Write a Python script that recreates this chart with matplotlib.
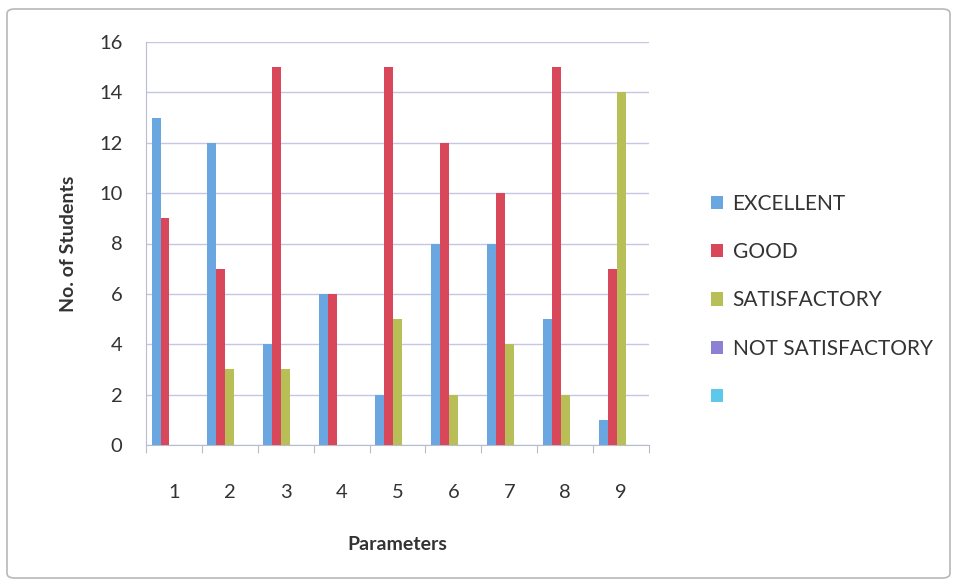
import numpy as np
import matplotlib
matplotlib.use("Agg")
import matplotlib.pyplot as plt
from matplotlib.patches import FancyBboxPatch, Patch

# data
parameters = ["1", "2", "3", "4", "5", "6", "7", "8", "9"]
excellent = [13, 12, 4, 6, 2, 8, 8, 5, 1]
good = [9, 7, 15, 6, 15, 12, 10, 15, 7]
satisfactory = [0, 3, 3, 0, 5, 2, 4, 2, 14]
not_satisfactory = [0, 0, 0, 0, 0, 0, 0, 0, 0]
blank = [0, 0, 0, 0, 0, 0, 0, 0, 0]

series_names = ["EXCELLENT", "GOOD", "SATISFACTORY", "NOT SATISFACTORY", ""]
series_values = [excellent, good, satisfactory, not_satisfactory, blank]
colors = ["#6aa6e0", "#d9475a", "#b7bf56", "#8b80d2", "#5ec8ea"]

plt.rcParams["font.family"] = ["Lato", "DejaVu Sans"]

fig = plt.figure(figsize=(9.58, 5.83), dpi=100)
fig.patch.set_facecolor("white")

# outer chart border
frame = FancyBboxPatch((7 / 958, 5 / 583), 943 / 958, 569 / 583,
                       boxstyle="round,pad=0,rounding_size=0.008",
                       transform=fig.transFigure, fill=False,
                       edgecolor="#b8b8b8", linewidth=1.2)
fig.add_artist(frame)

ax = fig.add_axes([146 / 958, (583 - 445) / 583, 503 / 958, 403 / 583])

x = np.arange(len(parameters))
bar_w = 0.16
for i, (name, vals, col) in enumerate(zip(series_names, series_values, colors)):
    ax.bar(x - 0.4 + bar_w * (i + 0.5), vals, width=bar_w, color=col, zorder=3)

ax.set_xlim(-0.5, len(parameters) - 0.5)
ax.set_ylim(0, 16)
ax.set_yticks(range(0, 17, 2))
ax.grid(axis="y", color="#c6c6e4", linewidth=1, zorder=0)

ax.set_xticks(np.arange(len(parameters) + 1) - 0.5)
ax.set_xticklabels([])
ax.set_xticks(x, minor=True)
ax.set_xticklabels(parameters, minor=True)
ax.tick_params(axis="x", which="major", length=6, color="#b8bcd0", direction="out")
ax.tick_params(axis="x", which="minor", length=0, pad=28, labelsize=14.5, labelcolor="#333333")
ax.tick_params(axis="y", length=0, pad=17, labelsize=14.5, labelcolor="#333333")

for s in ["top", "right"]:
    ax.spines[s].set_visible(False)
for s in ["left", "bottom"]:
    ax.spines[s].set_color("#b8bcd0")

ax.set_ylabel("No. of Students", fontsize=14, fontweight="bold", color="#333333", labelpad=16)
ax.set_xlabel("Parameters", fontsize=14, fontweight="bold", color="#333333", labelpad=25)

handles = [Patch(facecolor=c, edgecolor="none") for c in colors]
fig.legend(handles, series_names, loc="upper left", bbox_to_anchor=(692 / 958, 1 - 175 / 583),
           frameon=False, fontsize=15, labelspacing=1.36, handlelength=0.6, handleheight=0.6,
           handletextpad=0.45, labelcolor="#333333")

fig.savefig("out.png", dpi=100)
